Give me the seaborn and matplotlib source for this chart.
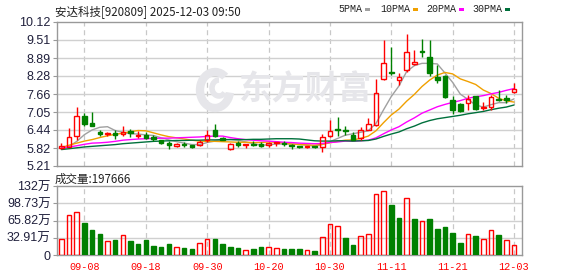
import matplotlib
matplotlib.use("Agg")
import matplotlib.pyplot as plt
from matplotlib.patches import Rectangle, Arc
import seaborn as sns
import pandas as pd
import numpy as np

# ---------------- data ----------------
title = "安达科技[920809] 2025-12-03 09:50"
vol_title = "成交量:197666"

dates = ["09-03", "09-04", "09-05", "09-08", "09-09", "09-10", "09-11", "09-12", "09-15", "09-16",
         "09-17", "09-18", "09-19", "09-22", "09-23", "09-24", "09-25", "09-26", "09-29", "09-30",
         "10-09", "10-10", "10-13", "10-14", "10-15", "10-16", "10-17", "10-20", "10-21", "10-22",
         "10-23", "10-24", "10-27", "10-28", "10-29", "10-30", "10-31", "11-03", "11-04", "11-05",
         "11-06", "11-07", "11-10", "11-11", "11-12", "11-13", "11-14", "11-17", "11-18", "11-19",
         "11-20", "11-21", "11-24", "11-25", "11-26", "11-27", "11-28", "12-01", "12-02", "12-03"]

open_ = [5.82, 5.86, 6.22, 6.93, 6.66, 6.36, 6.30, 6.33, 6.29, 6.39,
         6.22, 6.25, 6.20, 6.09, 5.99, 5.88, 5.97, 5.92, 5.92, 6.09,
         6.45, 6.18, 5.79, 6.00, 5.91, 5.95, 5.95, 5.92, 5.98, 6.00,
         5.93, 5.88, 5.85, 5.88, 5.86, 6.22, 6.46, 6.44, 6.28, 6.17,
         6.45, 6.62, 8.17, 8.42, 8.15, 8.49, 8.68, 9.12, 8.92, 8.26,
         8.29, 7.47, 7.33, 7.36, 7.58, 7.18, 7.22, 7.49, 7.53, 7.75]
high = [5.98, 6.50, 7.22, 7.01, 7.04, 6.45, 6.38, 6.43, 6.56, 6.47,
        6.39, 6.36, 6.28, 6.11, 6.05, 6.00, 6.04, 5.93, 6.10, 6.43,
        6.65, 6.20, 6.00, 6.05, 5.95, 6.06, 6.02, 6.02, 6.03, 6.05,
        5.95, 5.90, 5.90, 5.90, 6.31, 6.79, 6.88, 6.56, 6.38, 6.54,
        6.85, 8.17, 9.51, 9.26, 8.38, 9.72, 9.17, 9.53, 9.51, 8.66,
        8.32, 7.61, 7.35, 7.64, 7.60, 7.38, 7.64, 7.79, 7.64, 8.04]
low = [5.79, 5.85, 6.11, 6.56, 6.56, 6.22, 6.22, 6.13, 6.22, 6.21,
       6.16, 6.13, 6.05, 5.97, 5.79, 5.87, 5.86, 5.82, 5.88, 6.03,
       6.20, 6.10, 5.76, 5.86, 5.84, 5.88, 5.86, 5.87, 5.90, 5.88,
       5.79, 5.83, 5.83, 5.82, 5.68, 6.20, 6.22, 6.28, 6.09, 6.09,
       6.43, 6.56, 8.15, 8.32, 7.98, 8.40, 8.66, 8.94, 8.29, 8.04,
       7.53, 6.99, 7.04, 7.13, 7.11, 7.11, 7.11, 7.41, 7.36, 7.70]
close = [5.88, 6.20, 6.91, 6.65, 6.58, 6.29, 6.33, 6.25, 6.37, 6.32,
         6.25, 6.18, 6.13, 5.99, 5.94, 5.97, 5.92, 5.86, 6.03, 6.27,
         6.22, 6.11, 5.95, 5.91, 5.95, 5.91, 5.90, 6.00, 6.02, 5.96,
         5.90, 5.86, 5.88, 5.85, 6.20, 6.39, 6.45, 6.41, 6.11, 6.45,
         6.65, 7.70, 8.72, 8.39, 8.23, 9.09, 8.74, 9.09, 8.38, 8.13,
         7.56, 7.13, 7.10, 7.49, 7.15, 7.22, 7.56, 7.45, 7.46, 7.82]

ma5 = [5.79, 5.88, 6.05, 6.28, 6.44, 6.53, 6.55, 6.42, 6.36, 6.31,
       6.30, 6.27, 6.25, 6.17, 6.10, 6.04, 5.99, 5.94, 5.94, 6.01,
       6.06, 6.10, 6.12, 6.09, 6.03, 5.97, 5.92, 5.93, 5.96, 5.96,
       5.96, 5.95, 5.92, 5.89, 5.94, 6.04, 6.15, 6.26, 6.31, 6.36,
       6.41, 6.66, 7.13, 7.58, 7.94, 8.43, 8.63, 8.71, 8.71, 8.69,
       8.38, 8.06, 7.66, 7.48, 7.29, 7.22, 7.30, 7.37, 7.37, 7.50]
ma10 = [5.84, 5.92, 5.99, 6.06, 6.11, 6.18, 6.24, 6.29, 6.33, 6.38,
        6.42, 6.41, 6.34, 6.27, 6.21, 6.17, 6.13, 6.09, 6.06, 6.05,
        6.05, 6.04, 6.03, 6.02, 6.02, 6.01, 6.01, 6.03, 6.02, 5.99,
        5.96, 5.94, 5.93, 5.92, 5.95, 6.00, 6.05, 6.09, 6.10, 6.15,
        6.23, 6.41, 6.69, 6.95, 7.15, 7.42, 7.65, 7.92, 8.14, 8.31,
        8.40, 8.35, 8.18, 8.09, 7.99, 7.80, 7.68, 7.52, 7.43, 7.39]
ma20 = [5.82, 5.86, 5.90, 5.95, 5.99, 6.00, 6.02, 6.05, 6.09, 6.11,
        6.13, 6.14, 6.15, 6.16, 6.16, 6.17, 6.18, 6.19, 6.20, 6.22,
        6.23, 6.23, 6.18, 6.14, 6.11, 6.09, 6.07, 6.06, 6.04, 6.02,
        6.01, 5.99, 5.98, 5.97, 5.98, 6.01, 6.03, 6.06, 6.06, 6.07,
        6.09, 6.17, 6.31, 6.44, 6.55, 6.71, 6.85, 7.01, 7.12, 7.23,
        7.31, 7.38, 7.44, 7.52, 7.57, 7.61, 7.67, 7.72, 7.79, 7.85]
ma30 = [5.77, 5.80, 5.83, 5.86, 5.88, 5.90, 5.92, 5.94, 5.97, 5.99,
        6.01, 6.03, 6.05, 6.06, 6.07, 6.08, 6.08, 6.09, 6.09, 6.10,
        6.10, 6.11, 6.11, 6.11, 6.11, 6.12, 6.12, 6.13, 6.14, 6.14,
        6.14, 6.13, 6.10, 6.07, 6.06, 6.06, 6.07, 6.07, 6.06, 6.07,
        6.08, 6.13, 6.22, 6.30, 6.37, 6.48, 6.57, 6.68, 6.76, 6.82,
        6.86, 6.90, 6.94, 6.99, 7.03, 7.07, 7.13, 7.18, 7.22, 7.29]

# volume in 万 (10k shares)
volume = [30.0, 75.9, 81.6, 61.2, 47.8, 40.2, 26.1, 28.7, 37.6, 26.8,
          21.0, 28.7, 17.2, 15.3, 21.0, 14.7, 13.4, 11.5, 22.3, 30.0,
          30.6, 21.0, 15.3, 13.4, 8.9, 11.5, 15.3, 14.7, 12.8, 11.5,
          11.5, 11.5, 8.9, 7.7, 33.8, 58.7, 54.8, 32.5, 19.1, 35.7,
          39.5, 116.0, 121.8, 95.7, 70.8, 108.4, 68.9, 64.4, 68.9, 49.7,
          53.6, 42.1, 23.0, 39.5, 36.4, 30.0, 47.2, 38.3, 28.1, 19.7666]

price_ticks = [5.21, 5.82, 6.44, 7.05, 7.66, 8.28, 8.89, 9.51, 10.12]
price_labels = ["5.21", "5.82", "6.44", "7.05", "7.66", "8.28", "8.89", "9.51", "10.12"]
vol_ticks = [0, 32.91, 65.82, 98.73, 132]
vol_labels = ["0", "32.91万", "65.82万", "98.73万", "132万"]
x_labels = ["09-08", "09-18", "09-30", "10-20", "10-30", "11-11", "11-21", "12-03"]

ma_names = ["5PMA", "10PMA", "20PMA", "30PMA"]
ma_colors = ["#a0a0a0", "#f0a000", "#ff00ff", "#00703c"]

# ---------------- style ----------------
RED = "#ff0000"
GREEN = "#008000"
GRID = "#d0d0d0"
SPINE = "#999999"
WM = "#e6e6ea"

sns.set_theme(style="white")
plt.rcParams['font.family'] = ['Liberation Sans', 'Noto Sans CJK SC', 'DejaVu Sans']

W, H = 578, 276
fig = plt.figure(figsize=(W / 100, H / 100), dpi=100)
fig.patch.set_facecolor("white")

L, R = 57, 522
ax = fig.add_axes([L / W, 1 - 166 / H, (R - L) / W, 144 / H])
axv = fig.add_axes([L / W, 1 - 255 / H, (R - L) / W, 69 / H])

n = len(dates)
x = np.arange(n)
df = pd.DataFrame({"x": x, "date": dates, "open": open_, "high": high, "low": low,
                   "close": close, "vol": volume,
                   "ma5": ma5, "ma10": ma10, "ma20": ma20, "ma30": ma30})
tick_pos = [dates.index(d) for d in x_labels]

for a in (ax, axv):
    a.set_xlim(-0.58, 60.04)
    a.set_facecolor("white")
    for s in a.spines.values():
        s.set_color(SPINE)
        s.set_linewidth(1.0)
    a.set_axisbelow(True)
    for tp in tick_pos:
        a.axvline(tp, color="#c8c8c8", lw=0.9, ls=(0, (4, 3)), zorder=0)

# ---------------- price panel ----------------
ax.set_ylim(5.21, 10.12)
ax.set_yticks(price_ticks)
ax.set_yticklabels(price_labels)
for pt in price_ticks[1:-1]:
    ax.axhline(pt, color=GRID, lw=1.0, zorder=0)

# watermark (behind the data)
ax.text(305 / W, 1 - 90 / H, "东方财富", fontsize=24, fontweight="bold",
        family=["Noto Sans CJK SC"], color=WM, ha="center", va="center",
        transform=fig.transFigure, zorder=0.5)
ax.add_patch(Arc((215 / W, 1 - 90 / H), 30 / W, 36 / H, theta1=70, theta2=340,
                 transform=fig.transFigure, color=WM, lw=6, zorder=0.5))
ax.add_patch(Arc((219 / W, 1 - 88 / H), 14 / W, 16 / H, theta1=90, theta2=300,
                 transform=fig.transFigure, color=WM, lw=4, zorder=0.5))

# MA lines via seaborn
for col, c in zip(["ma5", "ma10", "ma20", "ma30"], ma_colors):
    sns.lineplot(data=df, x="x", y=col, ax=ax, color=c, lw=1.0, legend=False, zorder=2)

# candles
bw = 0.6
for i in range(n):
    o, h, l, c = open_[i], high[i], low[i], close[i]
    up = c >= o
    col = RED if up else GREEN
    lo_b, hi_b = min(o, c), max(o, c)
    ax.vlines(i, l, lo_b, color=col, lw=1.0, zorder=3)
    ax.vlines(i, hi_b, h, color=col, lw=1.0, zorder=3)
    hgt = max(hi_b - lo_b, 0.012)
    ax.bar(i, hgt, bottom=lo_b, width=bw,
           facecolor=("none" if up else GREEN), edgecolor=col, linewidth=1.0, zorder=4)

ax.set_xticks(tick_pos)
ax.set_xticklabels([])
ax.tick_params(axis="x", length=0)
ax.tick_params(axis="y", length=3, width=0.8, color=SPINE, pad=1.5,
               labelsize=9, labelcolor="#20203c", left=True)
ax.set_xlabel("")
ax.set_ylabel("")

# ---------------- volume panel ----------------
vol_up = [True] + [close[i] >= close[i - 1] for i in range(1, n)]
for i in range(n):
    if vol_up[i]:
        axv.bar(i, volume[i], width=bw, facecolor="none", edgecolor=RED, linewidth=1.0, zorder=3)
    else:
        axv.bar(i, volume[i], width=bw, facecolor=GREEN, edgecolor=GREEN, linewidth=1.0, zorder=3)

axv.set_ylim(0, 132)
axv.set_yticks(vol_ticks)
axv.set_yticklabels(vol_labels)
for vt in vol_ticks[1:-1]:
    axv.axhline(vt, color=GRID, lw=1.0, zorder=0)
axv.set_xticks(tick_pos)
axv.set_xticklabels(x_labels, family=["Liberation Mono"], fontsize=7.3, color=RED)
axv.tick_params(axis="x", length=0, pad=5)
axv.tick_params(axis="y", length=3, width=0.8, color=SPINE, pad=1.5,
                labelsize=9, labelcolor="#20203c", left=True)

# ---------------- texts ----------------
fig.text(55 / W, 1 - 12 / H, title, fontsize=8.3, family=["Noto Sans CJK SC"],
         color="#222222", ha="left", va="center")
fig.text(55 / W, 1 - 179 / H, vol_title, fontsize=8.3, family=["Noto Sans CJK SC"],
         color="#222222", ha="left", va="center")

leg_x = [338, 380, 426, 472]
sq_x = [365, 413, 459, 505]
for name, c, tx, sx in zip(ma_names, ma_colors, leg_x, sq_x):
    fig.text(tx / W, 1 - 9.5 / H, name, fontsize=7.2, family=["Liberation Mono"],
             color="#222222", ha="left", va="center")
    fig.patches.append(Rectangle((sx / W, 1 - 11 / H), 5 / W, 3.5 / H,
                                 transform=fig.transFigure, facecolor=c, edgecolor="none"))

fig.savefig("out.png", dpi=100, facecolor="white")
